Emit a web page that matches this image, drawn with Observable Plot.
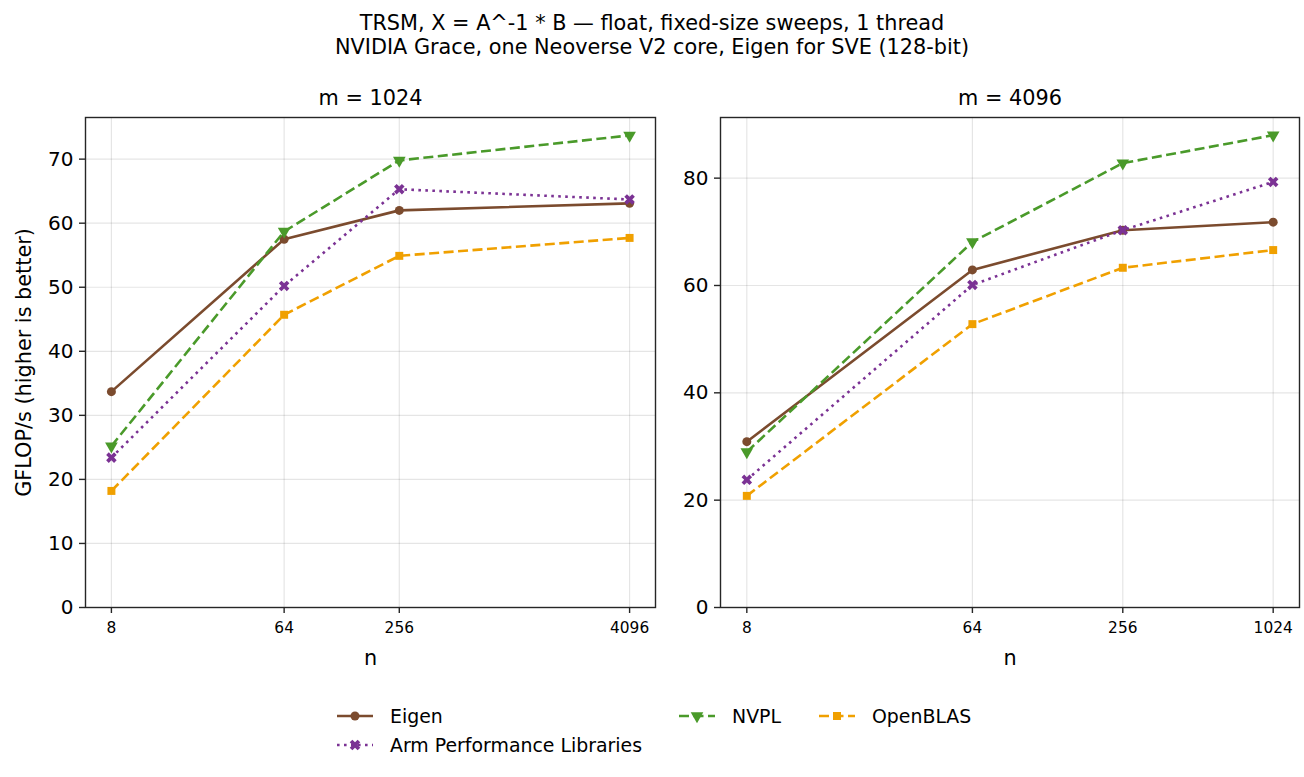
<!DOCTYPE html>
<html><head><meta charset="utf-8">
<script src="https://cdn.jsdelivr.net/npm/d3@7"></script>
<script src="https://cdn.jsdelivr.net/npm/@observablehq/plot@0.6"></script>
<style>
body{margin:0;background:#fff;font-family:"DejaVu Sans",sans-serif;}
#fig{position:relative;width:1304px;height:777px;overflow:hidden;background:#fff;}
#title{position:absolute;left:0;top:12px;width:1304px;text-align:center;font-size:20.8px;line-height:23.5px;color:#000;}
.panel{position:absolute;top:80px;}
#legend{position:absolute;left:0;top:690px;}
</style></head><body>
<div id="fig">
  <div id="title">TRSM, X = A^-1 * B — float, fixed-size sweeps, 1 thread<br>NVIDIA Grace, one Neoverse V2 core, Eigen for SVE (128-bit)</div>
  <div id="left" class="panel" style="left:0px"></div>
  <div id="right" class="panel" style="left:660px"></div>
  <div id="legend"></div>
</div>
<script>
// ---- data ----
const libraries = ["Eigen", "Arm Performance Libraries", "NVPL", "OpenBLAS"];
const nM1024 = [8, 64, 256, 4096];
const nM4096 = [8, 64, 256, 1024];
const eigenM1024 = [33.7, 57.5, 62.0, 63.1];
const armM1024 = [23.4, 50.2, 65.3, 63.7];
const nvplM1024 = [25.2, 58.7, 69.8, 73.7];
const openblasM1024 = [18.2, 45.7, 54.9, 57.7];
const eigenM4096 = [30.9, 62.9, 70.3, 71.8];
const armM4096 = [23.8, 60.1, 70.3, 79.3];
const nvplM4096 = [29.0, 68.1, 82.8, 88.0];
const openblasM4096 = [20.8, 52.8, 63.3, 66.6];
const yTicksM1024 = [0, 10, 20, 30, 40, 50, 60, 70];
const yTicksM4096 = [0, 20, 40, 60, 80];

// ---- styles ----
const styles = {
  "Eigen": {color: "#7b4b2e", dash: null, symbol: "circle", rotate: 0, r: 4.5},
  "Arm Performance Libraries": {color: "#7b3294", dash: "2.6,4.4", symbol: "cross", rotate: 45, r: 4.7},
  "NVPL": {color: "#4a9a2a", dash: "10,4.5", symbol: "triangle", rotate: 180, r: 4.7},
  "OpenBLAS": {color: "#f0a000", dash: "10,4.5", symbol: "square", rotate: 0, r: 4.5}
};

function rows(ns, series) {
  const out = [];
  libraries.forEach((lib, i) => ns.forEach((n, j) => out.push({lib, n, v: series[i][j]})));
  return out;
}
const dataM1024 = rows(nM1024, [eigenM1024, armM1024, nvplM1024, openblasM1024]);
const dataM4096 = rows(nM4096, [eigenM4096, armM4096, nvplM4096, openblasM4096]);

const frameColor = "#262626";
function panel({data, ns, yTicks, yMax, width, marginLeft, title, ylabel}) {
  const lo = Math.log2(ns[0]), hi = Math.log2(ns[ns.length - 1]);
  const pad = (hi - lo) * 0.05;
  const marks = [
    Plot.gridX(ns, {stroke: "#000", strokeOpacity: 0.1, strokeWidth: 1.2}),
    Plot.gridY(yTicks, {stroke: "#000", strokeOpacity: 0.1, strokeWidth: 1.2}),
  ];
  for (const lib of libraries) {
    const s = styles[lib];
    const d = data.filter(r => r.lib === lib);
    marks.push(Plot.line(d, {x: "n", y: "v", stroke: s.color, strokeWidth: 2.6, strokeDasharray: s.dash, strokeLinecap: "butt", strokeLinejoin: "round"}));
    marks.push(Plot.dot(d, {x: "n", y: "v", symbol: () => s.symbol, r: s.r, fill: s.color, stroke: "none", rotate: s.rotate}));
  }
  marks.push(
    Plot.frame({stroke: frameColor, strokeWidth: 1.4}),
    Plot.axisY(yTicks, {tickSize: 6, tickPadding: 6, stroke: frameColor, strokeWidth: 1.4, fontSize: 20, fill: "#000", label: null, tickFormat: d => String(d)}),
    Plot.axisX(ns, {tickSize: 6, tickPadding: 9, stroke: frameColor, strokeWidth: 1.4, fontSize: 15.4, fill: "#000", label: null, tickFormat: d => String(d)}),
    Plot.text([title], {frameAnchor: "top", lineAnchor: "middle", textAnchor: "middle", dy: -19, fontSize: 20.8, fill: "#000", text: d => d}),
    Plot.text(["n"], {frameAnchor: "bottom", lineAnchor: "middle", textAnchor: "middle", dy: 51, fontSize: 20.8, fill: "#000", text: d => d})
  );
  if (ylabel) marks.push(Plot.text([ylabel], {frameAnchor: "left", lineAnchor: "middle", textAnchor: "middle", dx: -61, rotate: -90, fontSize: 20.8, fill: "#000", text: d => d}));
  return Plot.plot({
    width, height: 600,
    marginLeft, marginRight: 5, marginTop: 37, marginBottom: 73,
    style: {fontFamily: "DejaVu Sans, sans-serif", fontSize: "20px", background: "transparent", overflow: "visible"},
    x: {type: "log", base: 2, domain: [2 ** (lo - pad), 2 ** (hi + pad)]},
    y: {domain: [0, yMax]},
    marks
  });
}

document.getElementById("left").append(panel({data: dataM1024, ns: nM1024, yTicks: yTicksM1024, yMax: 76.5, width: 660, marginLeft: 85, title: "m = 1024", ylabel: "GFLOP/s (higher is better)"}));
document.getElementById("right").append(panel({data: dataM4096, ns: nM4096, yTicks: yTicksM4096, yMax: 91.3, width: 644, marginLeft: 60, title: "m = 4096", ylabel: null}));

// ---- legend ----
const legendPos = [
  {lib: "Eigen", x: 337, y: 26},
  {lib: "Arm Performance Libraries", x: 337, y: 55},
  {lib: "NVPL", x: 679, y: 26},
  {lib: "OpenBLAS", x: 819, y: 26}
];
const svg = d3.select("#legend").append("svg").attr("width", 1304).attr("height", 87)
  .style("font-family", "DejaVu Sans, sans-serif");
const symMap = {circle: d3.symbolCircle, cross: d3.symbolCross, triangle: d3.symbolTriangle, square: d3.symbolSquare};
for (const p of legendPos) {
  const s = styles[p.lib];
  svg.append("line").attr("x1", p.x).attr("x2", p.x + 36).attr("y1", p.y).attr("y2", p.y)
    .attr("stroke", s.color).attr("stroke-width", 2.6).attr("stroke-dasharray", s.dash);
  svg.append("path").attr("d", d3.symbol(symMap[s.symbol], Math.PI * s.r * s.r)())
    .attr("transform", `translate(${p.x + 18},${p.y}) rotate(${s.rotate})`).attr("fill", s.color);
  svg.append("text").attr("x", p.x + 53).attr("y", p.y).attr("dy", "0.35em").attr("font-size", 18.9)
    .attr("fill", "#000").text(p.lib);
}
</script>
</body></html>
